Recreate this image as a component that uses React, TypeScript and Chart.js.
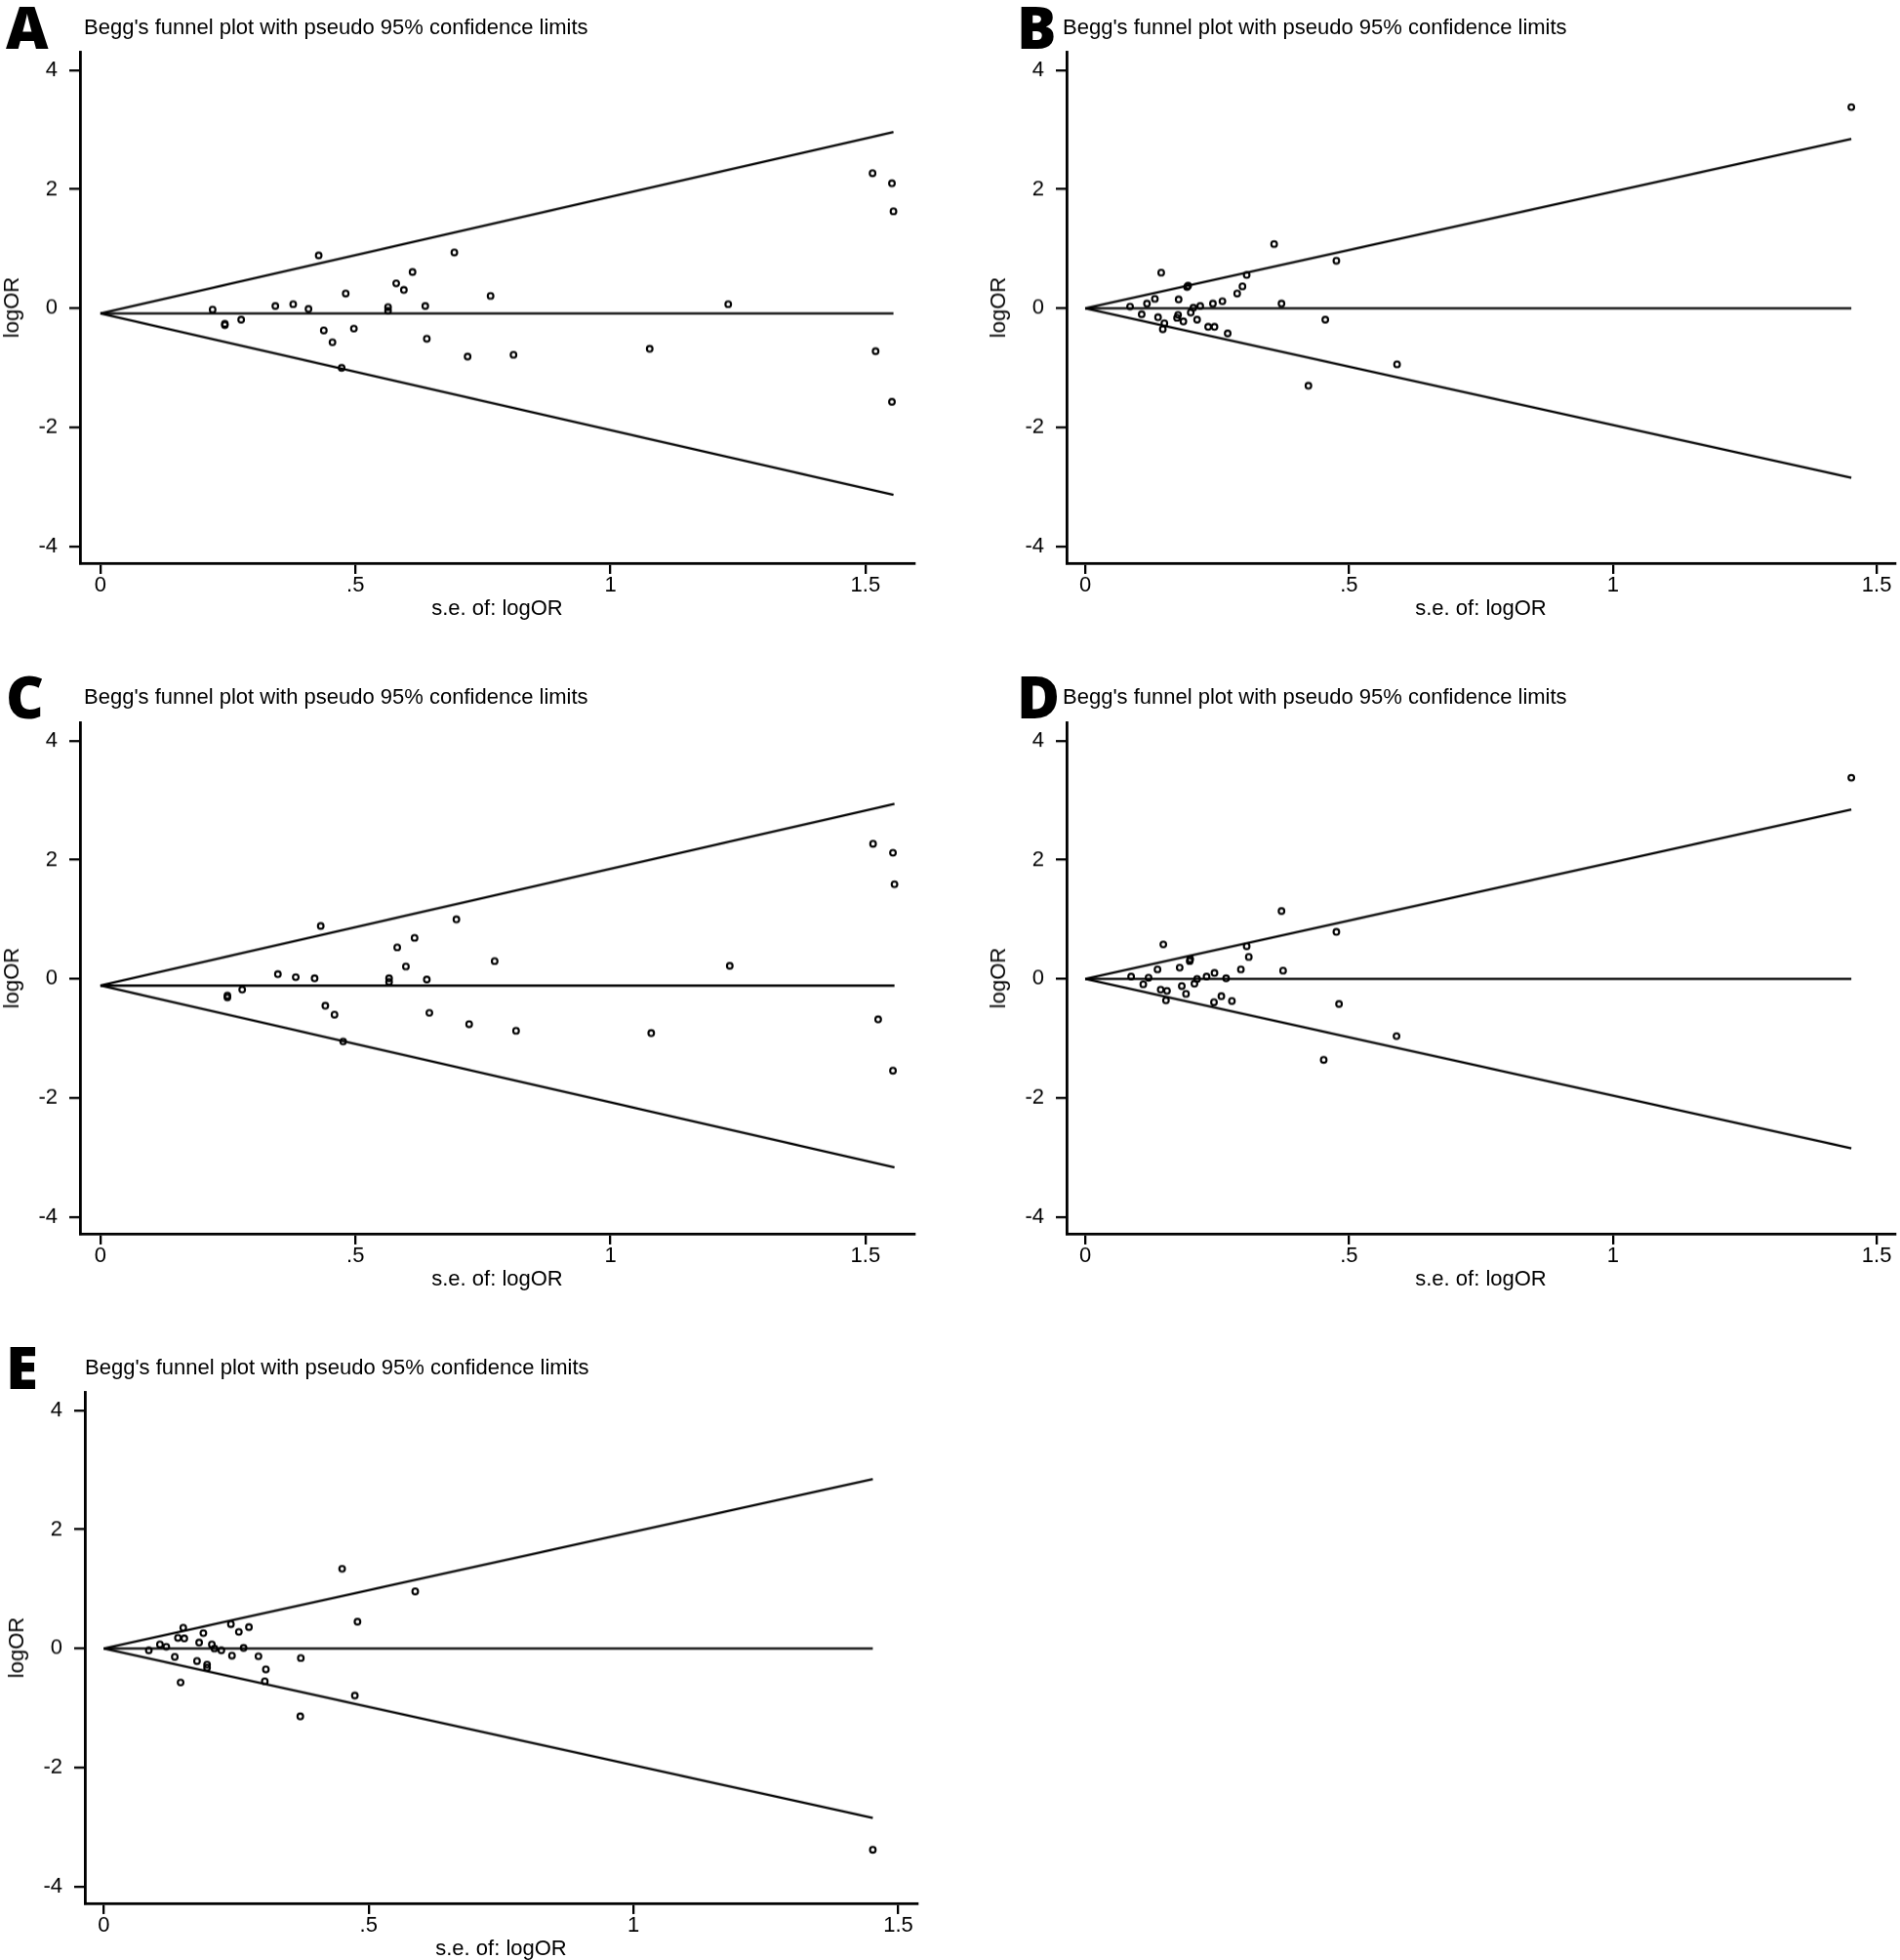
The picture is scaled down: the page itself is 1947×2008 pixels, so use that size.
import React, { useEffect, useRef } from 'react';
import { Chart, registerables } from 'chart.js';

Chart.register(...registerables);

// ---------- data ----------
const seA = [0.220, 0.244, 0.244, 0.276, 0.343, 0.378, 0.408, 0.428, 0.438, 0.455, 0.473, 0.481, 0.497, 0.564, 0.564, 0.580, 0.595, 0.612, 0.637, 0.640, 0.694, 0.720, 0.765, 0.810, 1.077, 1.231, 1.514, 1.552, 1.555, 1.520, 1.552];
const logOrA = [-0.02, -0.26, -0.28, -0.19, 0.04, 0.07, -0.01, 0.89, -0.37, -0.57, -1.00, 0.25, -0.34, 0.02, -0.04, 0.42, 0.31, 0.61, 0.04, -0.51, 0.94, -0.81, 0.21, -0.78, -0.68, 0.07, 2.27, 2.10, 1.63, -0.72, -1.57];
const pooledA = -0.085;

const seB = [0.085, 0.107, 0.117, 0.132, 0.144, 0.138, 0.150, 0.147, 0.177, 0.176, 0.174, 0.186, 0.193, 0.195, 0.200, 0.205, 0.212, 0.218, 0.233, 0.242, 0.245, 0.260, 0.270, 0.288, 0.298, 0.306, 0.358, 0.372, 0.423, 0.455, 0.476, 0.591, 1.452];
const logOrB = [0.03, -0.10, 0.08, 0.16, 0.60, -0.15, -0.25, -0.35, 0.15, -0.11, -0.16, -0.22, 0.36, 0.38, -0.07, 0.01, -0.19, 0.04, -0.31, 0.08, -0.31, 0.12, -0.42, 0.25, 0.37, 0.56, 1.08, 0.08, -1.30, -0.19, 0.80, -0.94, 3.38];
const pooledB = 0;

const seC = [0.249, 0.249, 0.278, 0.348, 0.383, 0.420, 0.432, 0.441, 0.459, 0.476, 0.566, 0.566, 0.582, 0.599, 0.616, 0.640, 0.645, 0.698, 0.723, 0.773, 0.815, 1.080, 1.234, 1.515, 1.554, 1.557, 1.525, 1.554];
const logOrC = [-0.28, -0.31, -0.18, 0.08, 0.03, 0.01, 0.89, -0.45, -0.60, -1.05, 0.01, -0.05, 0.53, 0.21, 0.69, -0.01, -0.57, 1.00, -0.76, 0.30, -0.87, -0.91, 0.22, 2.27, 2.12, 1.59, -0.68, -1.54];
const pooledC = -0.112;

const seD = [0.087, 0.110, 0.120, 0.137, 0.148, 0.143, 0.155, 0.153, 0.179, 0.183, 0.191, 0.198, 0.199, 0.207, 0.212, 0.230, 0.245, 0.244, 0.258, 0.267, 0.278, 0.295, 0.306, 0.310, 0.372, 0.375, 0.452, 0.476, 0.481, 0.590, 1.452];
const logOrD = [0.04, -0.09, 0.02, 0.16, 0.58, -0.18, -0.20, -0.36, 0.19, -0.12, -0.25, 0.30, 0.33, -0.08, 0.00, 0.04, 0.10, -0.39, -0.29, 0.01, -0.37, 0.16, 0.55, 0.37, 1.14, 0.14, -1.36, 0.79, -0.42, -0.96, 3.38];
const pooledD = 0;

const seE = [0.085, 0.106, 0.118, 0.134, 0.140, 0.150, 0.152, 0.145, 0.176, 0.180, 0.188, 0.195, 0.195, 0.204, 0.209, 0.222, 0.240, 0.242, 0.255, 0.264, 0.274, 0.292, 0.306, 0.304, 0.372, 0.371, 0.450, 0.474, 0.479, 0.588, 1.452];
const logOrE = [-0.03, 0.07, 0.03, -0.14, 0.18, 0.35, 0.17, -0.57, -0.21, 0.10, 0.26, -0.27, -0.32, 0.07, 0.00, -0.03, 0.41, -0.12, 0.28, 0.01, 0.36, -0.13, -0.35, -0.55, -0.16, -1.14, 1.34, -0.79, 0.45, 0.96, -3.38];
const pooledE = 0;

const xTickValues = [0, 0.5, 1, 1.5];
const xTickLabels = ['0', '.5', '1', '1.5'];
const yTickValues = [-4, -2, 0, 2, 4];
const yTickLabels = ['-4', '-2', '0', '2', '4'];
const panelTitle = "Begg's funnel plot with pseudo 95% confidence limits";
const xAxisTitle = 's.e. of: logOR';
const yAxisTitle = 'logOR';
const zCrit = 1.96;

// ---------- layout / style ----------
const FONT = '"Liberation Sans", Arial, Helvetica, sans-serif';
const FS = 22;
const Y_MIN = -4.28;
const Y_MAX = 4.31;
const PX_PER_Y = 61;
const PLOT_H = (Y_MAX - Y_MIN) * PX_PER_Y;
const PAD_TOP = 30;
const Y_W = 82;
const X_H = 62;

type PanelDef = {
  letter: string;
  se: number[];
  lor: number[];
  pooled: number;
  chartLeft: number;
  chartRight: number;
  chartTop: number;
  xMin: number;
  xMax: number;
  letterX: number;
  letterCapTop: number;
  titleX: number;
  titleTop: number;
};

const ROW1 = 53;
const ROW2 = 740;
const ROW3 = 1426;

const panels: PanelDef[] = [
  { letter: 'A', se: seA, lor: logOrA, pooled: pooledA, chartLeft: 82, chartRight: 938, chartTop: ROW1, xMin: -0.04, xMax: 1.596, letterX: 6, letterCapTop: 7, titleX: 86, titleTop: 16.5 },
  { letter: 'B', se: seB, lor: logOrB, pooled: pooledB, chartLeft: 1093, chartRight: 1946, chartTop: ROW1, xMin: -0.0353, xMax: 1.535, letterX: 1042, letterCapTop: 7, titleX: 1089, titleTop: 16.5 },
  { letter: 'C', se: seC, lor: logOrC, pooled: pooledC, chartLeft: 82, chartRight: 938, chartTop: ROW2, xMin: -0.04, xMax: 1.596, letterX: 6, letterCapTop: 693.5, titleX: 86, titleTop: 703 },
  { letter: 'D', se: seD, lor: logOrD, pooled: pooledD, chartLeft: 1093, chartRight: 1946, chartTop: ROW2, xMin: -0.0353, xMax: 1.535, letterX: 1042, letterCapTop: 693.5, titleX: 1089, titleTop: 703 },
  { letter: 'E', se: seE, lor: logOrE, pooled: pooledE, chartLeft: 87, chartRight: 941, chartTop: ROW3, xMin: -0.0357, xMax: 1.536, letterX: 6, letterCapTop: 1380, titleX: 87, titleTop: 1389.5 },
];

function FunnelPanel({ p }: { p: PanelDef }) {
  const ref = useRef<HTMLCanvasElement | null>(null);
  const canvasLeft = p.chartLeft - Y_W;
  const canvasTop = p.chartTop - PAD_TOP;
  const canvasW = Math.min(1947, p.chartRight + 4) - canvasLeft;
  const canvasH = PAD_TOP + PLOT_H + X_H;
  const padRight = canvasLeft + canvasW - p.chartRight;

  useEffect(() => {
    if (!ref.current) return;
    const maxSe = Math.max(...p.se);
    const lineStyle = {
      showLine: true,
      borderColor: '#000',
      borderWidth: 2.3,
      pointRadius: 0,
      pointHoverRadius: 0,
      fill: false,
      tension: 0,
    };
    const chart = new Chart(ref.current, {
      type: 'scatter',
      data: {
        datasets: [
          {
            data: p.se.map((s, i) => ({ x: s, y: p.lor[i] })),
            showLine: false,
            borderColor: '#000',
            backgroundColor: 'rgba(0,0,0,0)',
            pointBorderColor: '#000',
            pointBackgroundColor: 'rgba(0,0,0,0)',
            pointRadius: 2.9,
            pointHoverRadius: 2.9,
            pointBorderWidth: 2.1,
          },
          { ...lineStyle, data: [{ x: 0, y: p.pooled }, { x: maxSe, y: p.pooled + zCrit * maxSe }] },
          { ...lineStyle, data: [{ x: 0, y: p.pooled }, { x: maxSe, y: p.pooled - zCrit * maxSe }] },
          { ...lineStyle, data: [{ x: 0, y: p.pooled }, { x: maxSe, y: p.pooled }] },
        ],
      },
      options: {
        responsive: false,
        maintainAspectRatio: false,
        animation: false,
        events: [],
        layout: { padding: { left: 0, top: PAD_TOP, right: padRight, bottom: 0 } },
        plugins: {
          legend: { display: false },
          tooltip: { enabled: false },
          title: { display: false },
        },
        scales: {
          x: {
            type: 'linear',
            position: 'bottom',
            min: p.xMin,
            max: p.xMax,
            afterBuildTicks: (axis: any) => {
              axis.ticks = xTickValues.map((v) => ({ value: v }));
            },
            afterFit: (s: any) => {
              s.height = X_H;
            },
            ticks: {
              autoSkip: false,
              maxRotation: 0,
              minRotation: 0,
              padding: -1,
              color: '#000',
              font: { family: FONT, size: FS },
              callback: (v: any) => {
                const i = xTickValues.indexOf(Number(v));
                return i >= 0 ? xTickLabels[i] : '';
              },
            },
            grid: { drawOnChartArea: false, drawTicks: true, tickLength: 11, color: '#000', lineWidth: 2.3 },
            border: { display: true, color: '#000', width: 2.8 },
            title: {
              display: true,
              text: xAxisTitle,
              color: '#000',
              font: { family: FONT, size: FS, lineHeight: 1.2 },
              padding: { top: 0, bottom: 1.8 },
            },
          },
          y: {
            type: 'linear',
            position: 'left',
            min: Y_MIN,
            max: Y_MAX,
            afterBuildTicks: (axis: any) => {
              axis.ticks = yTickValues.map((v) => ({ value: v }));
            },
            afterFit: (s: any) => {
              s.width = Y_W;
            },
            ticks: {
              autoSkip: false,
              padding: 12,
              color: '#000',
              font: { family: FONT, size: FS },
              callback: (v: any) => {
                const i = yTickValues.indexOf(Number(v));
                return i >= 0 ? yTickLabels[i] : '';
              },
            },
            grid: { drawOnChartArea: false, drawTicks: true, tickLength: 11, color: '#000', lineWidth: 2.3 },
            border: { display: true, color: '#000', width: 2.8 },
            title: {
              display: true,
              text: yAxisTitle,
              color: '#000',
              font: { family: FONT, size: FS, lineHeight: 1.2 },
              padding: { top: 0, bottom: 0 },
            },
          },
        },
      } as any,
    });
    return () => chart.destroy();
  }, []);

  return (
    <>
      <canvas
        ref={ref}
        width={canvasW}
        height={canvasH}
        style={{ position: 'absolute', left: canvasLeft, top: canvasTop, width: canvasW, height: canvasH }}
      />
      <div
        style={{
          position: 'absolute',
          left: p.letterX,
          top: p.letterCapTop - 10.4,
          fontFamily: '"Open Sans", "Liberation Sans", Arial, sans-serif',
          fontWeight: 800,
          fontSize: 60,
          lineHeight: '60px',
          color: '#000',
          whiteSpace: 'nowrap',
        }}
      >
        {p.letter}
      </div>
      <div
        style={{
          position: 'absolute',
          left: p.titleX,
          top: p.titleTop,
          fontFamily: FONT,
          fontSize: FS,
          lineHeight: `${FS}px`,
          color: '#000',
          whiteSpace: 'nowrap',
        }}
      >
        {panelTitle}
      </div>
    </>
  );
}

export default function App() {
  return (
    <div
      style={{
        position: 'absolute',
        left: 0,
        top: 0,
        width: 1947,
        height: 2008,
        overflow: 'hidden',
        background: '#fff',
      }}
    >
      {panels.map((p) => (
        <FunnelPanel key={p.letter} p={p} />
      ))}
    </div>
  );
}
